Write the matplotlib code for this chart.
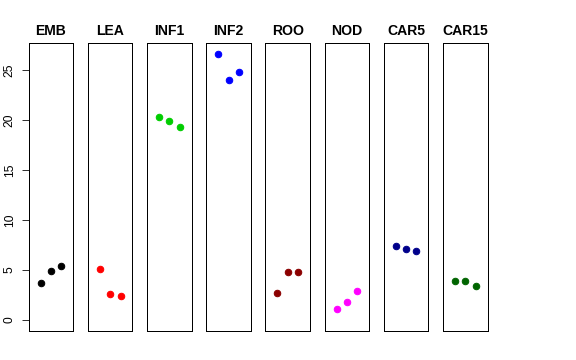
import matplotlib
matplotlib.use("Agg")
import matplotlib.pyplot as plt
import numpy as np

plt.rcParams['font.family'] = ['Liberation Sans', 'DejaVu Sans']

tissues = ["EMB", "LEA", "INF1", "INF2", "ROO", "NOD", "CAR5", "CAR15"]
colors = ["black", "#FF0000", "#00CD00", "#0000FF", "#8B0000", "#FF00FF", "#00008B", "#006400"]

emb = [3.69, 4.88, 5.38]
lea = [5.08, 2.59, 2.45]
inf1 = [20.3, 19.88, 19.28]
inf2 = [26.6, 24.0, 24.76]
roo = [2.72, 4.81, 4.81]
nod = [1.1, 1.79, 2.95]
car5 = [7.37, 7.07, 6.93]
car15 = [3.91, 3.88, 3.42]
values = [emb, lea, inf1, inf2, roo, nod, car5, car15]

reps = [1, 2, 3]
yticks = [0, 5, 10, 15, 20, 25]

ymax = max(max(v) for v in values)
ylo, yhi = 0 - 0.04 * ymax, ymax + 0.04 * ymax

fig = plt.figure(figsize=(8, 5), dpi=72)

W, H = 576.0, 360.0
left0, pitch, width = 28.7, 59.19, 44.6
top, bottom = 43.3, 330.7

for i, (name, vals, col) in enumerate(zip(tissues, values, colors)):
    ax = fig.add_axes([(left0 + i * pitch) / W, (H - bottom) / H,
                       width / W, (bottom - top) / H])
    ax.plot(reps, vals, 'o', color=col, ms=6.5, mec=col)
    ax.set_xlim(-0.16, 4.16)
    ax.set_ylim(ylo, yhi)
    ax.set_xticks([])
    for s in ax.spines.values():
        s.set_linewidth(1.0)
        s.set_color("black")
    ax.set_title(name, fontsize=14, fontweight='bold', pad=8)
    if i == 0:
        ax.set_yticks(yticks)
        ax.tick_params(axis='y', length=7, width=0.8, pad=6, labelsize=12)
        for lab in ax.get_yticklabels():
            lab.set_rotation(90)
            lab.set_va('center')
    else:
        ax.set_yticks([])

fig.savefig("out.png", dpi=72)
